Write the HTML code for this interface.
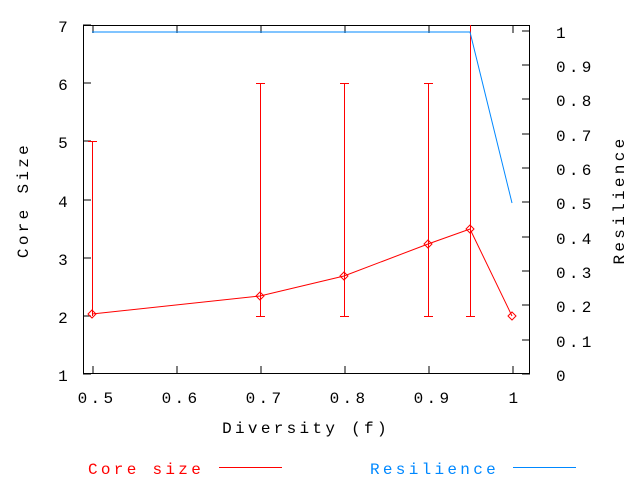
<!DOCTYPE html>
<html><head><style>body{margin:0;background:#fff}svg text{font-family:"Liberation Mono",monospace;font-size:16px;letter-spacing:3.3px}</style></head><body>
<svg width="640" height="480" xmlns="http://www.w3.org/2000/svg" shape-rendering="crispEdges">
<rect width="640" height="480" fill="#fff"/>
<g stroke="#000" fill="none" stroke-width="1">
<rect x="83.5" y="25.5" width="446" height="348"/>
<path d="M83 374h8M83 316h8M83 258h8M83 200h8M83 141h8M83 83h8M83 25h8"/>
<path d="M530 374h-8M530 340h-8M530 305h-8M530 271h-8M530 237h-8M530 202h-8M530 168h-8M530 134h-8M530 99h-8M530 65h-8M530 31h-8"/>
<path d="M93 374v-8M177 374v-8M261 374v-8M345 374v-8M429 374v-8M513 374v-8M93 25v8M177 25v8M261 25v8M345 25v8M429 25v8M513 25v8"/>
</g>
<g font-size="16" fill="#000">
<g text-anchor="end"><text x="71" y="381">1</text><text x="71" y="323">2</text><text x="71" y="265">3</text><text x="71" y="207">4</text><text x="71" y="148">5</text><text x="71" y="90">6</text><text x="71" y="32">7</text></g>
<g><text x="556" y="381">0</text><text x="556" y="347">0.1</text><text x="556" y="312">0.2</text><text x="556" y="278">0.3</text><text x="556" y="244">0.4</text><text x="556" y="209">0.5</text><text x="556" y="175">0.6</text><text x="556" y="141">0.7</text><text x="556" y="106">0.8</text><text x="556" y="72">0.9</text><text x="556" y="38">1</text></g>
<g text-anchor="middle"><text x="97" y="403">0.5</text><text x="181" y="403">0.6</text><text x="265" y="403">0.7</text><text x="349" y="403">0.8</text><text x="433" y="403">0.9</text><text x="515" y="403">1</text></g>
<text x="306" y="433" text-anchor="middle">Diversity (f)</text>
<text transform="translate(28,200) rotate(-90)" text-anchor="middle">Core Size</text>
<text transform="translate(624,200) rotate(-90)" text-anchor="middle">Resilience</text>
<text x="88" y="474" fill="#f00">Core size</text>
<text x="370" y="474" fill="#08f">Resilience</text>
</g>
<g fill="#f00" stroke="none">
<rect x="219" y="467" width="63" height="1"/>
<rect x="92" y="141" width="1" height="175"/><rect x="88" y="141" width="9" height="1"/>
<rect x="260" y="83" width="1" height="234"/><rect x="256" y="316" width="9" height="1"/><rect x="256" y="83" width="9" height="1"/>
<rect x="344" y="83" width="1" height="234"/><rect x="340" y="316" width="9" height="1"/><rect x="340" y="83" width="9" height="1"/>
<rect x="428" y="83" width="1" height="234"/><rect x="424" y="316" width="9" height="1"/><rect x="424" y="83" width="9" height="1"/>
<rect x="470" y="25" width="1" height="292"/><rect x="466" y="316" width="9" height="1"/>
</g>
<g stroke="#f00" fill="none" shape-rendering="auto">
<polyline points="92,314 260,296 344,276 428,244 470,229 512,316"/>
<g><path d="M92 310l4 4-4 4-4-4z"/><path d="M260 292l4 4-4 4-4-4z"/><path d="M344 272l4 4-4 4-4-4z"/><path d="M428 240l4 4-4 4-4-4z"/><path d="M470 225l4 4-4 4-4-4z"/><path d="M512 312l4 4-4 4-4-4z"/></g>
</g>
<g stroke="#08f" fill="none" shape-rendering="auto">
<path d="M513 467.5h63"/>
<polyline points="92,32 470,32 512,203"/>
</g>
</svg>
</body></html>
